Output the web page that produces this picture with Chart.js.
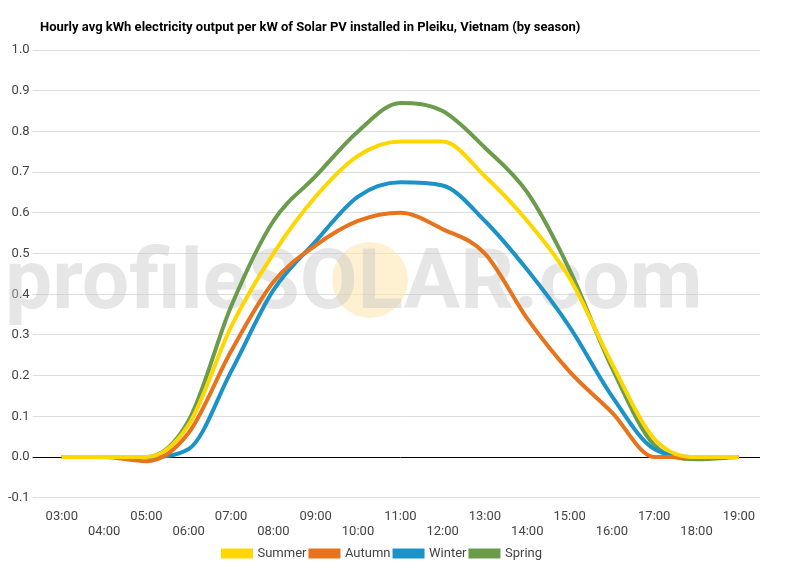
<!DOCTYPE html>
<html><head><meta charset="utf-8">
<script src="https://cdn.jsdelivr.net/npm/chart.js@4"></script>
<style>body{margin:0;background:#fff}#w{width:800px;height:570px}</style>
</head><body><div id="w"><canvas id="c"></canvas></div>
<script>
const hours=['03:00','04:00','05:00','06:00','07:00','08:00','09:00','10:00','11:00','12:00','13:00','14:00','15:00','16:00','17:00','18:00','19:00'];
const summer=[0,0,0,0.08,0.32,0.5,0.64,0.74,0.775,0.775,0.69,0.58,0.44,0.23,0.045,0,0];
const autumn=[0,0,-0.01,0.06,0.26,0.43,0.52,0.58,0.6,0.56,0.5,0.34,0.21,0.11,0,0,0];
const winter=[0,0,0,0.02,0.21,0.41,0.53,0.64,0.675,0.667,0.58,0.46,0.32,0.15,0.02,0,0];
const spring=[0,0,0,0.09,0.37,0.58,0.69,0.8,0.87,0.85,0.76,0.65,0.46,0.22,0.03,-0.005,0];
const yTicks=[-0.1,0,0.1,0.2,0.3,0.4,0.5,0.6,0.7,0.8,0.9,1.0];
const titleText='Hourly avg kWh electricity output per kW of Solar PV installed in Pleiku, Vietnam (by season)';
const wm={id:'wm',beforeDatasetsDraw(ch){const c=ch.ctx;c.save();
c.fillStyle='rgba(253,232,180,0.6)';c.beginPath();c.arc(370,280,38,0,Math.PI*2);c.fill();
c.font='bold 84px Roboto';c.fillStyle='rgba(200,200,200,0.45)';c.textBaseline='middle';c.fillText('profileSOLAR.com',5,287);c.restore();},
afterDraw(ch){const c=ch.ctx;c.save();c.font='bold 13px Roboto';c.fillStyle='#000';c.textBaseline='middle';c.fillText(titleText,40,28);c.restore();}};
const ds=(l,d,col)=>({label:l,data:d,borderColor:col,backgroundColor:col,borderWidth:4,pointRadius:0,cubicInterpolationMode:'monotone',fill:false});
new Chart(document.getElementById('c'),{type:'line',plugins:[wm],
data:{labels:hours,datasets:[ds('Summer',summer,'#ffd700'),ds('Autumn',autumn,'#e8731d'),ds('Winter',winter,'#1c93c8'),ds('Spring',spring,'#6a9c4c')]},
options:{responsive:true,maintainAspectRatio:false,animation:false,
layout:{padding:{left:5,right:40,top:50,bottom:0}},
plugins:{legend:{position:'bottom',labels:{boxWidth:28,boxHeight:6,font:{family:'Roboto',size:13},color:'#444',padding:4}},tooltip:{enabled:false}},
scales:{x:{offset:true,grid:{display:false},border:{display:false},ticks:{maxRotation:0,autoSkip:false,font:{family:'Roboto',size:13},color:'#444',callback:(v,i)=>i%2?['',hours[i]]:hours[i]}},
y:{min:-0.1,max:1.0,afterBuildTicks:a=>{a.ticks=yTicks.map(v=>({value:v}))},border:{display:false},
grid:{color:c=>Math.abs(c.tick.value)<1e-9?'#000':'#ddd',lineWidth:1},
ticks:{font:{family:'Roboto',size:13},color:'#444',callback:v=>v.toFixed(1)}}}}});
</script></body></html>
